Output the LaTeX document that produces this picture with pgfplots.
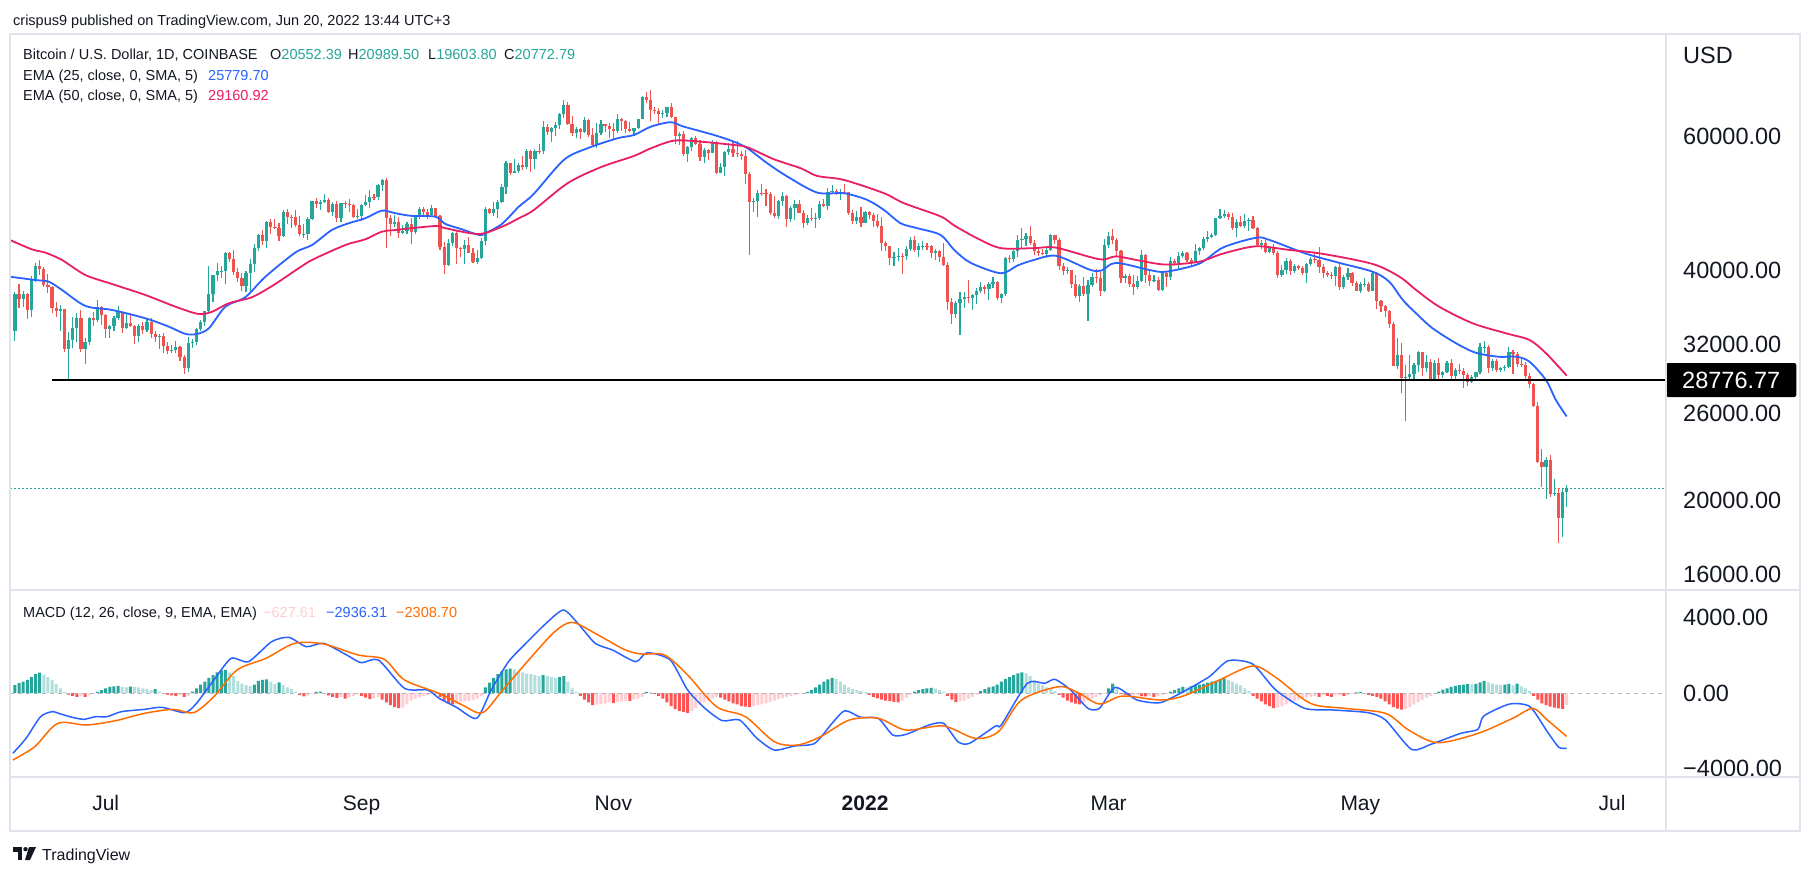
\documentclass[border=0pt]{standalone}
\usepackage{fontspec}
\setmainfont{Liberation Sans}
\usepackage{pgfplots}
\usepackage{pgfplotstable}
\pgfplotsset{compat=1.18}
\definecolor{tvtext}{HTML}{131722}
\definecolor{tvup}{HTML}{26A69A}
\definecolor{tvdown}{HTML}{EF5350}
\definecolor{emablue}{HTML}{2962FF}
\definecolor{emared}{HTML}{E91E63}
\definecolor{hdark}{HTML}{26A69A}
\definecolor{hlight}{HTML}{B2DFDB}
\definecolor{hred}{HTML}{FF5252}
\definecolor{hpink}{HTML}{FFCDD2}
\definecolor{sigorange}{HTML}{FF6D00}
\definecolor{tvborder}{HTML}{E0E3EB}
\definecolor{zerogray}{HTML}{B2B5BE}
\newcommand\fs[1]{\fontsize{#1}{#1}\selectfont}

% daily candles, day 0 = 1 Jul 2021
\pgfplotstableread{
d o h l c
-22 33400 37500 32400 37350
-21 37350 38400 35800 36700
-20 36700 37700 35900 37330
-19 37330 37450 34600 35550
-18 35550 39350 34800 39020
-17 39020 41000 38700 40530
-16 40530 41300 39500 40170
-15 40170 40500 38100 38340
-14 38340 39600 37400 38090
-13 38090 38200 35200 35810
-12 35810 36400 34800 35480
-11 35480 36100 33400 35620
-10 35620 35700 31300 31630
-9 31630 33300 28800 32510
-8 32510 34800 31700 33680
-7 33680 35200 32300 34660
-6 34660 35500 31300 31590
-5 31590 32700 30200 32280
-4 32280 34750 32000 34700
-3 34700 35300 33900 34500
-2 34500 36600 34300 35900
-1 35900 36000 34000 35040
0 35040 35100 32700 33540
1 33540 33940 32700 33860
2 33860 34950 33350 34690
3 34690 35950 34450 35290
4 35290 35350 33150 33700
5 33700 35100 33550 34220
6 34220 35000 33800 33870
7 33870 33930 32100 32880
8 32880 34100 32300 33820
9 33820 34250 33100 33510
10 33510 34600 33300 34260
11 34260 34650 32700 33090
12 33090 33330 32250 32730
13 32730 33100 31600 32820
14 32820 33200 31200 31880
15 31880 32250 31100 31390
16 31390 31950 31200 31530
17 31530 32420 31200 31780
18 31780 31890 30500 30840
19 30840 31060 29300 29800
20 29800 32800 29500 32140
21 32140 32600 31700 32300
22 32300 33650 32000 33600
23 33600 34450 33400 34290
24 34290 35400 33900 35390
25 35390 40550 35250 37280
26 37280 39500 36400 39450
27 39450 40900 38800 40000
28 40000 40600 39200 40010
29 40010 42300 38400 42240
30 42240 42300 41100 41460
31 41460 42600 39450 39850
32 39850 40400 38700 39150
33 39150 39750 37600 38200
34 38200 39950 37500 39720
35 39720 41400 37400 40870
36 40870 43400 39850 42840
37 42840 44700 42500 44600
38 44600 45300 43300 43800
39 43800 46450 42800 46290
40 46290 46700 44700 45600
41 45600 46750 45350 45550
42 45550 46200 43800 44400
43 44400 48100 44250 47830
44 47830 48150 46000 47090
45 47090 47400 45550 47020
46 47020 48000 45700 45920
47 45920 47150 44400 44690
48 44690 46000 44200 44740
49 44740 47050 43950 46760
50 46760 49350 46650 49330
51 49330 49800 48300 48870
52 48870 49500 48100 49290
53 49290 50500 49050 49540
54 49540 49850 47600 47710
55 47710 49250 47150 48990
56 48990 49350 46350 46850
57 46850 49150 46400 49070
58 49070 49300 48400 48900
59 48900 49650 47800 48800
60 48800 48900 46900 46990
61 46990 48250 46750 47150
62 47150 48950 46550 48850
63 48850 50350 48700 49280
64 49280 51050 48400 49940
65 49940 50500 49500 49930
66 49930 51900 49450 51790
67 51790 52780 50950 52660
68 52660 52900 42800 46860
69 46860 47350 44400 46070
70 46070 47350 45600 46400
71 46400 47000 44200 44850
72 44850 45950 44750 45160
73 45160 46350 44750 46030
74 46030 46850 43400 44950
75 44950 47250 44700 47110
76 47110 48450 46700 48140
77 48140 48450 47050 47770
78 47770 48150 46800 47290
79 47290 48800 47050 48300
80 48300 48350 46850 47250
81 47250 47350 42550 42960
82 42960 43600 39600 40720
83 40720 44000 40600 43560
84 43560 44950 43100 44890
85 44890 45050 40800 42840
86 42840 42950 41700 42700
87 42700 43900 40800 43200
88 43200 44350 42150 42200
89 42200 42800 40900 41040
90 41040 42600 40800 41520
91 41520 44100 41450 43820
92 43820 48450 43300 48140
93 48140 48350 47450 47660
94 47660 49250 47150 48230
95 48230 49500 46950 49250
96 49250 51900 49100 51500
97 51500 55750 50400 55340
98 55340 55400 53400 53800
99 53800 56100 53650 53970
100 53970 55450 53700 54960
101 54960 56550 54150 54690
102 54690 57800 54450 57490
103 57490 57650 53900 56010
104 56010 57700 54300 57370
105 57370 58550 56850 57360
106 57360 62900 56850 61670
107 61670 62300 60200 60880
108 60880 61700 58950 61530
109 61530 62650 60100 62040
110 62040 64450 61400 64280
111 64280 67000 63500 66000
112 66000 66650 62100 62210
113 62210 63750 60000 60690
114 60690 61750 59700 61300
115 61300 61500 59550 60860
116 60860 63700 60700 63080
117 63080 63300 59900 60330
118 60330 61450 58100 58450
119 58450 62450 57850 60580
120 60580 62950 60200 62250
121 62250 62350 60750 61880
122 61880 62400 59750 61320
123 61320 62400 59500 61000
124 61000 64250 60650 63230
125 63230 63500 60950 62940
126 62940 63100 60700 61430
127 61430 62600 60750 61000
128 61000 61600 60150 61520
129 61520 63300 61350 63300
130 63300 67750 63300 67550
131 67550 68500 66300 66940
132 66940 69000 62800 64900
133 64900 65600 64100 64800
134 64800 65450 62300 64150
135 64150 65000 63400 64380
136 64380 65500 63600 65500
137 65500 66300 63400 63600
138 63600 63650 58600 60100
139 60100 60800 58400 60360
140 60360 60950 56500 56900
141 56900 58350 55600 58100
142 58100 59850 57450 59740
143 59740 60000 58500 58700
144 58700 59300 55700 56300
145 56300 57850 55300 57550
146 57550 57750 55900 57150
147 57150 59400 57000 58950
148 58950 59150 53550 53700
149 53700 55300 53650 54750
150 54750 57450 53300 57300
151 57300 58850 56700 57800
152 57800 59200 56300 57000
153 57000 59100 56400 56950
154 56950 57400 55850 56500
155 56500 57600 52000 53600
156 53600 53900 42000 49200
157 49200 49750 47750 49400
158 49400 51000 47100 50600
159 50600 51950 50050 50580
160 50580 51200 48650 50500
161 50500 50800 47400 47650
162 47650 50050 46900 47150
163 47150 49500 46800 49350
164 49350 50800 48650 50100
165 50100 50200 45700 46700
166 46700 48700 46300 48350
167 48350 49500 46600 48900
168 48900 49450 47550 47650
169 47650 48000 45500 46200
170 46200 47350 45950 46850
171 46850 48300 46450 46700
172 46700 47550 45550 46900
173 46900 49350 46650 48950
174 48950 49600 48450 48600
175 48600 51350 48050 50800
176 50800 51850 50450 50850
177 50850 51150 50200 50400
178 50400 51250 49450 50800
179 50800 52000 50500 50700
180 50700 50750 47350 47550
181 47550 48100 46100 46450
182 46450 47900 46000 47100
183 47100 48550 45700 46200
184 46200 47900 46150 47700
185 47700 47950 46700 47300
186 47300 47550 45700 46450
187 46450 47500 45500 45800
188 45800 47050 42500 43450
189 43450 43750 42450 43100
190 43100 43150 40700 41550
191 41550 42300 40550 41700
192 41700 42800 41250 41850
193 41850 42250 39650 41820
194 41820 43100 41300 42750
195 42750 44300 42450 43900
196 43900 44450 42350 42600
197 42600 43450 41750 43100
198 43100 43800 42600 43150
199 43150 43500 42600 43100
200 43100 43200 41550 42250
201 42250 42700 41300 42400
202 42400 42600 41100 41700
203 41700 43500 40600 40700
204 40700 41100 35500 36450
205 36450 36850 34050 35100
206 35100 36550 34650 36300
207 36300 37550 32950 36700
208 36700 37550 35750 36950
209 36950 38900 36250 36850
210 36850 37250 35500 37150
211 37150 38000 36200 37700
212 37700 38700 37400 38150
213 38150 38350 37350 37900
214 37900 38700 36650 38500
215 38500 39250 38000 38700
216 38700 38850 36600 36900
217 36900 37400 36250 37300
218 37300 41750 37050 41550
219 41550 41950 40950 41400
220 41400 42650 41100 42400
221 42400 44500 41650 43850
222 43850 45500 42700 44050
223 44050 44800 43150 44400
224 44400 45850 43200 43550
225 43550 43900 42000 42400
226 42400 43000 41800 42250
227 42250 42750 41900 42050
228 42050 42850 41600 42550
229 42550 44750 42450 44550
230 44550 44600 43350 43900
231 43900 44150 40100 40550
232 40550 40950 39500 40000
233 40000 40500 39650 40100
234 40100 40150 38000 38400
235 38400 39450 36800 37050
236 37050 38450 36400 38250
237 38250 39250 37050 37250
238 37250 38950 34350 38300
239 38300 39700 38050 39250
240 39250 40250 38600 39150
241 39150 39850 37050 37700
242 37700 44000 37500 43200
243 43200 44950 42850 44400
244 44400 45400 43350 43950
245 43950 44100 41850 42450
246 42450 42550 38600 39150
247 39150 39650 38600 39400
248 39400 39650 38100 38400
249 38400 39500 37200 38050
250 38050 39400 37900 38750
251 38750 42550 38650 41950
252 41950 42050 38550 39450
253 39450 40250 38250 38800
254 38800 39500 38700 38900
255 38900 39300 37600 37800
256 37800 39950 37600 39700
257 39700 39850 38150 39300
258 39300 41700 38900 41150
259 41150 41450 40550 40950
260 40950 42350 40200 41800
261 41800 42400 41550 42250
262 42250 42300 41100 41300
263 41300 41550 40550 41050
264 41050 43350 40900 42400
265 42400 43000 41900 42900
266 42900 44250 42600 44000
267 44000 45100 43650 44350
268 44350 44800 44150 44550
269 44550 46950 44450 46850
270 46850 48200 46700 47150
271 47150 48100 46950 47450
272 47450 47700 46600 47100
273 47100 47600 45200 45550
274 45550 46700 44250 46300
275 46300 47250 45650 45850
276 45850 47450 45550 46450
277 46450 46900 45150 46650
278 46650 47200 45400 45550
279 45550 45600 43100 43200
280 43200 43900 42750 43450
281 43450 43950 42150 42300
282 42300 42850 42150 42800
283 42800 43400 41950 42150
284 42150 42450 39200 39550
285 39550 40650 39300 40100
286 40100 41550 39600 41150
287 41150 41500 39550 39950
288 39950 40850 39800 40550
289 40550 40700 40050 40400
290 40400 40600 39550 39700
291 39700 41000 38550 40800
292 40800 41750 40600 41500
293 41500 42200 40900 41350
294 41350 42950 39800 40500
295 40500 40800 39200 39700
296 39700 39950 39300 39450
297 39450 39900 39050 39430
298 39430 40550 38200 40450
299 40450 40800 37750 38100
300 38100 39450 37900 39250
301 39250 40400 38900 39750
302 39750 39900 38200 38600
303 38600 38800 37600 37650
304 37650 38650 37400 38450
305 38450 39150 38050 38500
306 38500 38650 37550 37700
307 37700 40000 37650 39700
308 39700 39850 35600 36550
309 36550 36650 35300 36000
310 36000 36100 34750 35450
311 35450 35500 33700 34050
312 34050 34250 30000 30050
313 30050 32650 29750 31000
314 31000 32150 27700 28950
315 28950 30100 25400 29000
316 29000 31000 28700 29300
317 29300 30300 28650 30100
318 30100 31400 29500 31300
319 31300 31350 29100 29850
320 29850 31000 29500 30400
321 30400 30700 28650 28700
322 28700 30550 28650 30300
323 30300 30750 28750 29200
324 29200 29600 28950 29450
325 29450 30450 29400 30300
326 30300 30650 28900 29100
327 29100 29800 28650 29650
328 29650 30200 29300 29550
329 29550 29850 28050 29200
330 29200 29400 28250 28600
331 28600 29200 28550 29000
332 29000 29500 28800 29450
333 29450 32200 29300 31750
334 31750 32400 31250 31800
335 31800 31950 29350 29800
336 29800 30650 29600 30450
337 30450 30650 29500 29700
338 29700 29950 29500 29850
339 29850 30150 29550 29900
340 29900 31750 29850 31350
341 31350 31550 29300 31100
342 31100 31300 29900 30200
343 30200 30700 29950 30100
344 30100 30350 28850 29100
345 29100 29400 28100 28400
346 28400 28550 26550 26600
347 26600 26900 22400 22500
348 22500 23350 20850 22150
349 22150 22800 20100 22600
350 22600 22950 20250 20400
351 20400 21350 20300 20450
352 20450 20750 17600 19000
353 19000 20800 17950 20550
354 20552.39 20989.50 19603.80 20772.79
}\candles

% MACD histogram: k = 1 rising above zero, 2 falling above, 3 falling below, 4 rising below
\pgfplotstableread{
d h k
-22 420 1
-21 520 1
-20 600 1
-19 700 1
-18 850 1
-17 1000 1
-16 1080 1
-15 980 2
-14 850 2
-13 700 2
-12 480 2
-11 250 2
-10 60 2
-9 -80 3
-8 -150 3
-7 -200 3
-6 -160 4
-5 -200 3
-4 -120 4
-3 -50 4
-2 60 1
-1 150 1
0 250 1
1 330 1
2 350 1
3 380 1
4 330 2
5 300 2
6 340 1
7 320 2
8 300 2
9 250 2
10 220 2
11 150 2
12 200 1
13 80 2
14 -40 3
15 -80 3
16 -120 3
17 -170 3
18 -100 4
19 -200 3
20 -150 4
21 80 1
22 250 1
23 450 1
24 600 1
25 800 1
26 950 1
27 1100 1
28 1200 1
29 1230 1
30 1100 2
31 900 2
32 650 2
33 500 2
34 420 2
35 380 2
36 450 1
37 650 1
38 700 1
39 730 1
40 600 2
41 480 2
42 560 1
43 420 2
44 300 2
45 200 2
46 80 2
47 -100 3
48 -180 3
49 -120 4
50 -40 4
51 60 1
52 80 1
53 -30 3
54 -120 3
55 -200 3
56 -260 3
57 -200 4
58 -300 3
59 -250 4
60 -150 4
61 -60 4
62 -150 3
63 -250 3
64 -320 3
65 -280 4
66 -200 4
67 -350 3
68 -500 3
69 -650 3
70 -750 3
71 -800 3
72 -780 4
73 -600 4
74 -400 4
75 -300 4
76 -250 4
77 -150 4
78 -100 4
79 -60 4
80 -40 4
81 -200 3
82 -400 3
83 -550 3
84 -600 3
85 -560 4
86 -500 4
87 -450 4
88 -420 4
89 -380 4
90 -300 4
91 -150 4
92 300 1
93 550 1
94 800 1
95 1000 1
96 1150 1
97 1250 1
98 1300 1
99 1250 2
100 1150 2
101 1100 2
102 1050 2
103 1000 2
104 950 2
105 900 2
106 950 1
107 900 2
108 850 2
109 800 2
110 850 1
111 900 1
112 600 2
113 250 2
114 80 2
115 -150 3
116 -350 3
117 -500 3
118 -650 3
119 -620 4
120 -600 4
121 -550 4
122 -500 4
123 -520 3
124 -480 4
125 -450 4
126 -400 4
127 -420 3
128 -350 4
129 -300 4
130 -200 4
131 60 1
132 30 2
133 -60 3
134 -150 3
135 -300 3
136 -500 3
137 -700 3
138 -850 3
139 -950 3
140 -1000 3
141 -1050 3
142 -950 4
143 -800 4
144 -650 4
145 -500 4
146 -400 4
147 -300 4
148 -200 4
149 -250 3
150 -350 3
151 -450 3
152 -550 3
153 -600 3
154 -700 3
155 -720 3
156 -750 3
157 -700 4
158 -650 4
159 -600 4
160 -550 4
161 -480 4
162 -400 4
163 -330 4
164 -260 4
165 -200 4
166 -150 4
167 -100 4
168 -60 4
169 -30 4
170 60 1
171 150 1
172 300 1
173 450 1
174 600 1
175 720 1
176 800 1
177 750 2
178 600 2
179 450 2
180 300 2
181 200 2
182 150 2
183 100 2
184 50 2
185 -100 3
186 -200 3
187 -280 3
188 -350 3
189 -400 3
190 -430 3
191 -470 3
192 -500 3
193 -400 4
194 -260 4
195 -100 4
196 80 1
197 150 1
198 200 1
199 250 1
200 270 1
201 230 2
202 150 2
203 60 2
204 -150 3
205 -350 3
206 -480 3
207 -450 4
208 -400 4
209 -300 4
210 -200 4
211 -100 4
212 100 1
213 200 1
214 300 1
215 350 1
216 450 1
217 600 1
218 750 1
219 850 1
220 950 1
221 1050 1
222 1100 1
223 1050 2
224 900 2
225 700 2
226 500 2
227 400 2
228 300 2
229 200 2
230 100 2
231 -100 3
232 -250 3
233 -400 3
234 -500 3
235 -560 3
236 -600 3
237 -500 4
238 -400 4
239 -300 4
240 -200 4
241 -120 4
242 -50 4
243 250 1
244 500 1
245 300 2
246 -50 3
247 -100 3
248 -150 3
249 -120 4
250 -100 4
251 -160 3
252 -180 3
253 -150 4
254 -200 3
255 -150 4
256 -100 4
257 -50 4
258 80 1
259 150 1
260 250 1
261 320 1
262 300 2
263 350 1
264 420 1
265 450 1
266 480 1
267 550 1
268 600 1
269 650 1
270 720 1
271 780 1
272 700 2
273 600 2
274 500 2
275 400 2
276 250 2
277 100 2
278 -150 3
279 -300 3
280 -450 3
281 -600 3
282 -700 3
283 -800 3
284 -780 4
285 -700 4
286 -600 4
287 -500 4
288 -420 4
289 -350 4
290 -300 4
291 -250 4
292 -200 4
293 -150 4
294 -200 3
295 -100 4
296 -150 3
297 -200 3
298 -120 4
299 -100 4
300 -160 3
301 -100 4
302 -60 4
303 30 1
304 60 1
305 -40 3
306 -100 3
307 -150 3
308 -200 3
309 -300 3
310 -450 3
311 -600 3
312 -750 3
313 -830 3
314 -880 3
315 -850 4
316 -750 4
317 -600 4
318 -480 4
319 -360 4
320 -250 4
321 -150 4
322 -60 4
323 80 1
324 180 1
325 250 1
326 320 1
327 380 1
328 420 1
329 450 1
330 470 1
331 460 2
332 480 1
333 560 1
334 640 1
335 560 2
336 500 2
337 450 2
338 420 2
339 450 1
340 480 1
341 400 2
342 500 1
343 350 2
344 250 2
345 120 2
346 -150 3
347 -350 3
348 -550 3
349 -650 3
350 -720 3
351 -780 3
352 -820 3
353 -840 3
354 -628 4
}\hist

% candle pieces as vertical error bars, no marks
\pgfplotsset{
  candle/.style n args={2}{draw=none, mark=none,
    error bars/.cd, y dir=plus, y explicit, error mark=none,
    error bar style={draw=#1, line width=#2, solid}, /pgfplots/.cd},
}

\begin{document}
\begin{tikzpicture}
\path[use as bounding box, fill=white] (0,0) rectangle (1813pt,-876pt);

% ---------- price panel ----------
\begin{axis}[
  at={(10pt,-34pt)}, anchor=north west, scale only axis,
  width=1656pt, height=556pt,
  xmin=-23.19, xmax=378.07,
  ymode=log, ymin=15278, ymax=81710,
  axis line style={draw=none},
  major tick length=0pt, minor tick length=0pt,
  xtick=\empty,
  ytick={16000,20000,26000,32000,40000,60000},
  yticklabels={16000.00,20000.00,26000.00,32000.00,40000.00,60000.00},
  yticklabel pos=right,
  yticklabel style={anchor=west, inner sep=0pt, xshift=17pt, font=\fs{23.5}, text=tvtext},
  clip=false]
\addplot[tvup, line width=1pt, dash pattern=on 1.5pt off 2.5pt]
  coordinates {(-23.19,20772.79) (378.07,20772.79)};
% wicks
\addplot[x filter/.expression={\thisrow{c}<\thisrow{o} ? nan : x},
  candle={tvup}{1.1pt}]
  table[x=d, y=l, y error plus expr=\thisrow{h}-\thisrow{l}] {\candles};
\addplot[x filter/.expression={\thisrow{c}<\thisrow{o} ? x : nan},
  candle={tvdown}{1.1pt}]
  table[x=d, y=l, y error plus expr=\thisrow{h}-\thisrow{l}] {\candles};
% bodies
\addplot[x filter/.expression={\thisrow{c}<\thisrow{o} ? nan : x},
  candle={tvup}{3.2pt}]
  table[x=d, y=o, y error plus expr=\thisrow{c}-\thisrow{o}] {\candles};
\addplot[x filter/.expression={\thisrow{c}<\thisrow{o} ? x : nan},
  candle={tvdown}{3.2pt}]
  table[x=d, y=c, y error plus expr=\thisrow{o}-\thisrow{c}] {\candles};
% EMA 25
\addplot[emablue, line width=1.8pt, smooth, tension=0.5] coordinates {
(-23.19,39300) (-17.1,38910) (-13.8,38710) (-10.6,37760) (-4.9,35980) (1.5,35550)
(9.6,34670) (15.3,33800) (19.3,33070) (22.1,33070) (25.0,33640) (29.0,35900)
(33.8,36940) (38.7,39300) (45.9,42250) (50.0,43240) (54.8,45240) (58.9,46170)
(62.9,46870) (66.9,47960) (70.2,47580) (74.2,47200) (79.9,47090) (82.3,46070)
(86.3,45340) (90.4,44570) (92.0,44800) (96.0,46070) (100.1,48540) (103.7,50430)
(111.0,55880) (116.7,57880) (124.0,59660) (128.0,60250) (132.1,61780) (136.9,62610)
(140.1,61780) (147.4,60250) (152.2,59050) (155.5,57880) (160.3,55330) (165.2,53140)
(172.4,50640) (178.9,50540) (184.5,49540) (188.6,48040) (192.6,46170) (196.7,45480)
(202.3,44570) (205.6,42600) (209.6,40970) (216.9,39710) (220.9,40640) (224.9,41330)
(230.3,41850) (238.3,40160) (241.2,40020) (244.8,40970) (252.9,40100) (256.9,39900)
(265.0,40880) (270.7,42910) (278.7,44190) (282.0,43900) (290.8,42130) (298.9,40970)
(307.0,39900) (311.0,38710) (314.3,36630) (317.5,35190) (321.5,33640) (327.2,32150)
(332.0,31240) (337.7,30860) (341.7,30880) (345.0,30410) (349.0,28760) (351.4,27080)
(354,25780)};
% EMA 50
\addplot[emared, line width=1.8pt, smooth, tension=0.5] coordinates {
(-23.19,43900) (-17.9,42680) (-14.6,42250) (-10.6,41330) (-4.9,39500) (1.5,38450)
(9.6,37190) (16.9,35900) (22.5,35120) (25.8,35360) (29.8,36270) (35.4,36940)
(40.3,38210) (45.9,40020) (50.0,41330) (58.1,43240) (62.9,43990) (66.9,45010)
(70.2,45240) (79.9,45790) (82.3,45480) (90.4,44700) (96.0,45690) (100.1,46870)
(103.7,48040) (111.9,52090) (119.9,54660) (128.0,56560) (132.1,57880) (137.7,59230)
(144.2,59050) (152.2,58460) (155.5,58060) (161.9,56000) (168.4,54500) (172.4,53250)
(178.9,52610) (188.6,50540) (193.4,49050) (202.3,47130) (205.6,45860) (211.2,44110)
(216.9,42830) (224.9,42830) (230.2,42900) (240.8,41420) (244.8,41780) (250.5,41250)
(256.9,40760) (265.0,41120) (270.7,42130) (278.7,43070) (286.8,42600) (294.9,42100)
(307.0,40830) (313.5,39300) (317.5,37760) (323.1,35900) (331.2,34150) (339.3,33130)
(345.0,32470) (349.0,31190) (354,29160)};
% drawn support line
\addplot[black, line width=2.2pt] coordinates {(-13,28776.77) (378.07,28776.77)};
\node[fill=black, text=white, font=\fs{23.5}, inner xsep=16pt, inner ysep=0pt,
  minimum height=34pt, anchor=west, rounded corners=2pt]
  at (axis cs:378.07,28776.77) {28776.77};
\end{axis}

% ---------- MACD panel ----------
\begin{axis}[
  at={(10pt,-590pt)}, anchor=north west, scale only axis,
  width=1656pt, height=187pt,
  xmin=-23.19, xmax=378.07,
  ymin=-4465, ymax=5475,
  axis line style={draw=none},
  major tick length=0pt, minor tick length=0pt,
  ytick={-4000,0,4000},
  yticklabels={−4000.00,0.00,4000.00},
  yticklabel pos=right,
  yticklabel style={anchor=west, inner sep=0pt, xshift=17pt, font=\fs{23.5}, text=tvtext},
  xtick={0,62,123,184,243,304,365},
  xticklabels={Jul,Sep,Nov,\textbf{2022},Mar,May,Jul},
  xticklabel style={anchor=base, inner sep=0pt, yshift=-33pt, font=\fs{21}, text=tvtext},
  clip=false]
\addplot[ybar, bar width=3pt, bar shift=0pt, draw=none, fill=hdark,
  x filter/.expression={\thisrow{k}==1 ? x : nan}] table[x=d, y=h] {\hist};
\addplot[ybar, bar width=3pt, bar shift=0pt, draw=none, fill=hlight,
  x filter/.expression={\thisrow{k}==2 ? x : nan}] table[x=d, y=h] {\hist};
\addplot[ybar, bar width=3pt, bar shift=0pt, draw=none, fill=hred,
  x filter/.expression={\thisrow{k}==3 ? x : nan}] table[x=d, y=h] {\hist};
\addplot[ybar, bar width=3pt, bar shift=0pt, draw=none, fill=hpink,
  x filter/.expression={\thisrow{k}==4 ? x : nan}] table[x=d, y=h] {\hist};
\addplot[zerogray, line width=1pt, dash pattern=on 4pt off 4pt]
  coordinates {(-23.19,0) (378.07,0)};
% MACD line
\addplot[emablue, line width=1.5pt, smooth, tension=0.4] coordinates {
(-22.5,-3206) (-19.3,-2410) (-15.8,-1260) (-13.0,-992) (-10.9,-1116) (-8.1,-1293)
(-5.3,-1400) (-2.5,-1260) (0.3,-1260) (3.8,-992) (9.4,-868) (13.6,-762)
(19.2,-1046) (22.0,-549) (26.2,691) (30.4,1843) (34.6,1665) (40.2,2729)
(44.4,2960) (48.6,2463) (52.8,2640) (58.4,2020) (61.9,1612) (66.1,1754)
(72.4,248) (78.0,160) (80.8,-284) (85.0,-762) (89.9,-1347) (93.4,160)
(97.6,1665) (101.8,2640) (106.7,3704) (110.9,4412) (114.4,3704) (118.6,2640)
(122.8,2286) (128.4,1665) (131.2,2144) (136.8,1754) (141.0,160) (145.2,-815)
(149.4,-1470) (153.6,-1435) (157.8,-2410) (162.0,-3030) (166.9,-2817) (171.8,-2675)
(176.0,-1612) (179.1,-939) (183.0,-1293) (187.2,-1347) (190.7,-2233) (193.9,-2200)
(199.5,-1701) (203.0,-1612) (206.5,-2587) (209.3,-2675) (215.6,-1754) (217.0,-1701)
(223.3,514) (227.5,514) (230.0,726) (233.8,160) (238.0,-815) (240.8,-815)
(244.6,301) (249.9,-372) (255.5,-513) (261.1,71) (267.4,868) (272.0,1718)
(277.9,1542) (283.5,160) (290.5,-815) (297.5,-904) (305.9,-1046) (310.1,-1435)
(316.4,-2995) (321.3,-2711) (328.3,-2145) (332.5,-1931) (333.9,-1222) (340.2,-585)
(345.1,-726) (349.3,-2056) (352.1,-2888) (354,-2936)};
% signal line
\addplot[sigorange, line width=1.5pt, smooth, tension=0.5] coordinates {
(-22.5,-3562) (-17.2,-2853) (-11.6,-1612) (-4.6,-1701) (2.4,-1470) (9.4,-1081)
(16.4,-868) (21.3,-1046) (26.2,-195) (31.8,1223) (38.8,1843) (45.8,2640)
(52.8,2605) (61.2,2020) (67.5,1790) (72.4,691) (80.8,-18) (86.4,-638)
(91.3,-1046) (96.2,160) (103.2,1931) (108.8,3260) (113.0,3757) (118.6,3172)
(125.6,2321) (129.8,2073) (135.4,2020) (141.0,957) (148.0,-726) (155.0,-1258)
(162.0,-2587) (167.6,-2764) (173.2,-2322) (180.2,-1435) (187.2,-1347) (193.9,-1967)
(203.0,-1754) (210.7,-2410) (216.3,-2056) (221.9,-372) (231.0,337) (235.9,-18)
(240.8,-585) (246.4,-160) (255.5,-372) (261.1,-160) (269.5,655) (277.9,1435)
(283.5,833) (291.9,-549) (300.3,-815) (310.1,-1081) (315.7,-1967) (322.7,-2640)
(332.5,-2145) (340.9,-1347) (345.8,-815) (349.3,-1435) (354,-2309)};
\end{axis}

% ---------- frame ----------
\draw[tvborder, line width=1.5pt] (10pt,-34pt) rectangle (1800pt,-831pt);
\draw[tvborder, line width=1.5pt] (10pt,-590pt) -- (1800pt,-590pt)
  (10pt,-777pt) -- (1800pt,-777pt) (1666pt,-34pt) -- (1666pt,-831pt);

% ---------- texts ----------
\begin{scope}[every node/.style={anchor=base west, inner sep=0pt, font=\fs{14.5}, text=tvtext}]
\node at (13pt,-25pt) {crispus9 published on TradingView.com, Jun 20, 2022 13:44 UTC+3};
\node at (23pt,-59pt) {Bitcoin / U.S. Dollar, 1D, COINBASE};
\node at (270pt,-59pt) {O\textcolor{tvup}{20552.39}};
\node at (348pt,-59pt) {H\textcolor{tvup}{20989.50}};
\node at (428pt,-59pt) {L\textcolor{tvup}{19603.80}};
\node at (504pt,-59pt) {C\textcolor{tvup}{20772.79}};
\node at (23pt,-80pt) {EMA (25, close, 0, SMA, 5)};
\node at (208pt,-80pt) {\textcolor{emablue}{25779.70}};
\node at (23pt,-100pt) {EMA (50, close, 0, SMA, 5)};
\node at (208pt,-100pt) {\textcolor{emared}{29160.92}};
\node at (23pt,-617pt) {MACD (12, 26, close, 9, EMA, EMA)};
\node at (263pt,-617pt) {\textcolor{hpink}{−627.61}};
\node at (326pt,-617pt) {\textcolor{emablue}{−2936.31}};
\node at (396pt,-617pt) {\textcolor{sigorange}{−2308.70}};
\node[font=\fs{23.5}] at (1683pt,-63pt) {USD};
\node[font=\fs{16}] at (42pt,-860pt) {TradingView};
\end{scope}
% logo
\fill[tvtext] (13pt,-847pt) rectangle (22pt,-851.5pt);
\fill[tvtext] (17.5pt,-847pt) rectangle (22pt,-860pt);
\fill[tvtext] (25.5pt,-849.2pt) circle (2.2pt);
\fill[tvtext] (29pt,-847pt) -- (36pt,-847pt) -- (30pt,-860pt) -- (25pt,-860pt) -- cycle;
\end{tikzpicture}
\end{document}
